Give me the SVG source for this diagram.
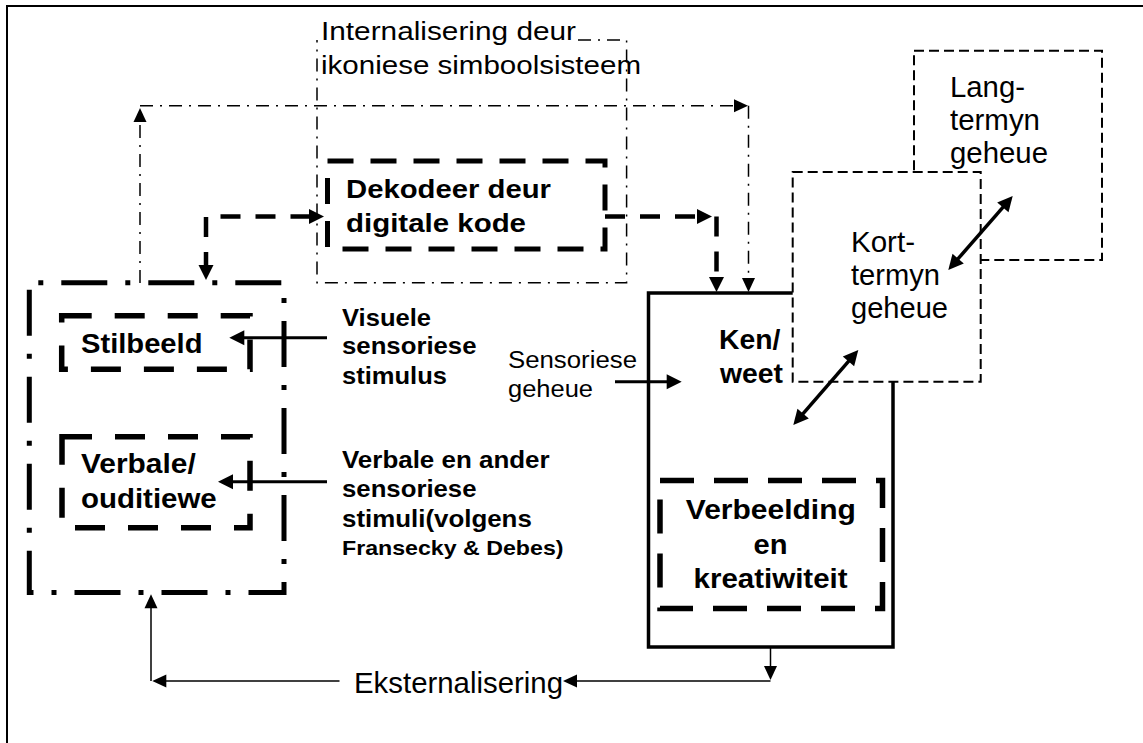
<svg xmlns="http://www.w3.org/2000/svg" width="1143" height="743" viewBox="0 0 1143 743">
<style>
.t{font-family:"Liberation Sans",Arial,Helvetica,sans-serif;fill:#000}
.b{font-weight:bold}
.dd{fill:none;stroke:#000;stroke-width:1.5;stroke-dasharray:13 7 2 7}
.ddk{fill:none;stroke:#000;stroke-width:5;stroke-dasharray:46 18 5 18;stroke-dashoffset:55}
.dk{fill:none;stroke:#000;stroke-width:5.5;stroke-dasharray:30 23}
.dkv{fill:none;stroke:#000;stroke-width:5.5;stroke-dasharray:34 20}
.dkd{fill:none;stroke:#000;stroke-width:5;stroke-dasharray:26 17}
.da{fill:none;stroke:#000;stroke-width:4.5;stroke-dasharray:20 15}
.ds{fill:#fff;stroke:#000;stroke-width:2;stroke-dasharray:10 5}
.sk{fill:none;stroke:#000;stroke-width:3.5}
.s3{fill:none;stroke:#000;stroke-width:3}
.s1{fill:none;stroke:#000;stroke-width:1.5}
</style>
<defs>
<marker id="ah" markerUnits="userSpaceOnUse" viewBox="-14 -8 18 16" markerWidth="18" markerHeight="16" refX="0" refY="0" orient="auto-start-reverse" overflow="visible">
<path d="M3,0 L-11,-6.5 L-11,6.5 Z" fill="#000"/>
</marker>
<marker id="ahb" markerUnits="userSpaceOnUse" viewBox="-10 -9 20 18" markerWidth="20" markerHeight="18" refX="0" refY="0" orient="auto-start-reverse" overflow="visible">
<path d="M8,0 L-7,-7.5 L-7,7.5 Z" fill="#000"/>
</marker>
</defs>
<rect width="1143" height="743" fill="#fff"/>
<g id="frame"><path d="M7,743 V6 H1143" fill="none" stroke="#000" stroke-width="2"/></g>

<g id="lang">
<rect x="914" y="50.7" width="188" height="209.3" class="ds"/>
<text class="t" font-size="30" x="950" y="97" textLength="75" lengthAdjust="spacingAndGlyphs">Lang-</text>
<text class="t" font-size="30" x="950" y="130" textLength="90" lengthAdjust="spacingAndGlyphs">termyn</text>
<text class="t" font-size="30" x="950" y="163" textLength="98" lengthAdjust="spacingAndGlyphs">geheue</text>
</g>

<g id="ken">
<rect x="648.5" y="293" width="244.5" height="354" fill="#fff" stroke="#000" stroke-width="3.5"/>
<text class="t b" font-size="28" x="719" y="349" textLength="61.4" lengthAdjust="spacingAndGlyphs">Ken/</text>
<text class="t b" font-size="28" x="720" y="383" textLength="63" lengthAdjust="spacingAndGlyphs">weet</text>
</g>

<g id="verbeelding">
<rect x="660" y="480.5" width="222.5" height="128" class="dkv"/>
<text class="t b" font-size="28" x="685.8" y="519" textLength="170" lengthAdjust="spacingAndGlyphs">Verbeelding</text>
<text class="t b" font-size="28" x="753.5" y="554" textLength="34" lengthAdjust="spacingAndGlyphs">en</text>
<text class="t b" font-size="28" x="693.6" y="588" textLength="154" lengthAdjust="spacingAndGlyphs">kreatiwiteit</text>
</g>

<g id="kort">
<rect x="792.7" y="172" width="188" height="209.7" class="ds"/>
<text class="t" font-size="29" x="851" y="252" textLength="64" lengthAdjust="spacingAndGlyphs">Kort-</text>
<text class="t" font-size="29" x="851" y="285" textLength="89" lengthAdjust="spacingAndGlyphs">termyn</text>
<text class="t" font-size="29" x="851" y="318" textLength="97" lengthAdjust="spacingAndGlyphs">geheue</text>
</g>

<g id="internalisering">
<path d="M578,40 H626.6 V282.7 H317 V40" class="dd"/>
<text class="t" font-size="26" x="321" y="40" textLength="255" lengthAdjust="spacingAndGlyphs">Internalisering deur</text>
<text class="t" font-size="26" x="321" y="74" textLength="320" lengthAdjust="spacingAndGlyphs">ikoniese simboolsisteem</text>
</g>

<g id="dekodeer">
<rect x="327.5" y="161" width="277.5" height="88" class="dkd"/>
<text class="t b" font-size="25" x="346" y="198" textLength="205" lengthAdjust="spacingAndGlyphs">Dekodeer deur</text>
<text class="t b" font-size="25" x="346" y="232" textLength="180" lengthAdjust="spacingAndGlyphs">digitale kode</text>
</g>

<g id="sensories">
<rect x="29.3" y="282.7" width="254.7" height="309.8" class="ddk"/>
</g>

<g id="stilbeeld">
<rect x="61.7" y="315.7" width="188.3" height="53.6" class="dk"/>
<text class="t b" font-size="27.5" x="81" y="353" textLength="121.5" lengthAdjust="spacingAndGlyphs">Stilbeeld</text>
</g>

<g id="verbale">
<rect x="62" y="436.7" width="188" height="91" class="dk"/>
<text class="t b" font-size="27.5" x="81" y="473" textLength="114.7" lengthAdjust="spacingAndGlyphs">Verbale/</text>
<text class="t b" font-size="27.5" x="81" y="508" textLength="135.7" lengthAdjust="spacingAndGlyphs">ouditiewe</text>
</g>

<g id="visuele-label">
<text class="t b" font-size="24" x="342" y="326" textLength="89" lengthAdjust="spacingAndGlyphs">Visuele</text>
<text class="t b" font-size="24" x="342" y="354" textLength="134.5" lengthAdjust="spacingAndGlyphs">sensoriese</text>
<text class="t b" font-size="24" x="342" y="384" textLength="105" lengthAdjust="spacingAndGlyphs">stimulus</text>
</g>

<g id="verbale-label">
<text class="t b" font-size="24" x="342" y="468" textLength="207.6" lengthAdjust="spacingAndGlyphs">Verbale en ander</text>
<text class="t b" font-size="24" x="342" y="497" textLength="134.5" lengthAdjust="spacingAndGlyphs">sensoriese</text>
<text class="t b" font-size="24" x="342" y="527" textLength="189.8" lengthAdjust="spacingAndGlyphs">stimuli(volgens</text>
<text class="t b" font-size="21" x="342" y="555" textLength="221.5" lengthAdjust="spacingAndGlyphs">Fransecky &amp; Debes)</text>
</g>

<g id="sensoriese-geheue">
<text class="t" font-size="23" x="508" y="368" textLength="129" lengthAdjust="spacingAndGlyphs">Sensoriese</text>
<text class="t" font-size="23" x="508" y="397" textLength="85" lengthAdjust="spacingAndGlyphs">geheue</text>
</g>

<g id="eksternalisering">
<text class="t" font-size="29.5" x="354" y="693" textLength="209" lengthAdjust="spacingAndGlyphs">Eksternalisering</text>
</g>

<g id="connectors">
<path d="M140,283 V111" class="dd" marker-end="url(#ah)"/>
<path d="M140,105.7 H745" class="dd" marker-end="url(#ah)"/>
<path d="M748.5,105.7 V289" class="dd" marker-end="url(#ah)"/>
<path d="M206,272 V216.5 H316" class="da" marker-start="url(#ahb)" marker-end="url(#ahb)"/>
<path d="M605,216.5 H704" class="da" marker-end="url(#ahb)"/>
<path d="M716.5,216.5 V284" class="da" marker-end="url(#ahb)"/>
<path d="M327,337.7 H237.3" class="s3" marker-end="url(#ahb)"/>
<path d="M327,481.7 H226" class="s3" marker-end="url(#ahb)"/>
<path d="M615,381.7 H673.7" class="s3" marker-end="url(#ahb)"/>
<path d="M953.55,263.97 L1007.45,202.03" class="sk" marker-start="url(#ahb)" marker-end="url(#ahb)"/>
<path d="M798.54,418.95 L853.06,356.05" class="sk" marker-start="url(#ahb)" marker-end="url(#ahb)"/>
<path d="M770.5,648 V677" class="s1" marker-end="url(#ah)"/>
<path d="M770.5,681 H566" class="s1" marker-end="url(#ah)"/>
<path d="M339.5,681 H155.3" class="s1" marker-end="url(#ah)"/>
<path d="M151,681 V597.3" class="s1" marker-end="url(#ah)"/>
</g>
</svg>
